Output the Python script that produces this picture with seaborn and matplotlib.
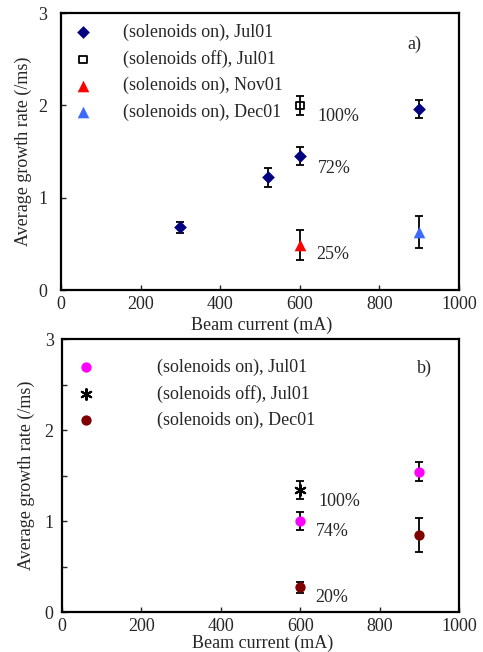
import numpy as np
import pandas as pd
import matplotlib
matplotlib.use("Agg")
import matplotlib.pyplot as plt
import seaborn as sns

# ---------------- data ----------------
# Panel a
a_on_jul_x = [300, 520, 600, 900]
a_on_jul_y = [0.68, 1.22, 1.45, 1.96]
a_on_jul_e = [0.06, 0.10, 0.10, 0.10]
a_off_jul_x = [600]
a_off_jul_y = [2.00]
a_off_jul_e = [0.10]
a_on_nov_x = [600]
a_on_nov_y = [0.49]
a_on_nov_e = [0.16]
a_on_dec_x = [900]
a_on_dec_y = [0.63]
a_on_dec_e = [0.17]
a_labels = ["(solenoids on), Jul01", "(solenoids off), Jul01",
            "(solenoids on), Nov01", "(solenoids on), Dec01"]
a_annot_text = ["100%", "72%", "25%"]
a_annot_x = [698, 686, 684]
a_annot_y = [1.88, 1.32, 0.38]

# Panel b
b_on_jul_x = [600, 900]
b_on_jul_y = [1.00, 1.54]
b_on_jul_e = [0.10, 0.105]
b_off_jul_x = [600]
b_off_jul_y = [1.34]
b_off_jul_e = [0.10]
b_on_dec_x = [600, 900]
b_on_dec_y = [0.27, 0.845]
b_on_dec_e = [0.06, 0.19]
b_labels = ["(solenoids on), Jul01", "(solenoids off), Jul01",
            "(solenoids on), Dec01"]
b_annot_text = ["100%", "74%", "20%"]
b_annot_x = [699, 680, 680]
b_annot_y = [1.21, 0.89, 0.165]

x_label = "Beam current (mA)"
y_label = "Average growth rate (/ms)"
x_ticks = [0, 200, 400, 600, 800, 1000]
y_ticks = [0, 1, 2, 3]

# ---------------- style ----------------
sns.set_style("ticks")
plt.rcParams['font.family'] = ['Liberation Serif', 'DejaVu Serif']
FS = 13
LFS = 13

fig = plt.figure(figsize=(4.83, 6.52), dpi=100)
ax_a = fig.add_axes([0.1263, 0.5552, 0.8240, 0.4248])
ax_b = fig.add_axes([0.1284, 0.0613, 0.8220, 0.4187])


def series(ax, xs, ys, es, marker, color, s, label, face=None, lw=0.0):
    df = pd.DataFrame({"x": xs, "y": ys})
    ax.errorbar(xs, ys, yerr=es, fmt="none", ecolor="black",
                elinewidth=1.3, capsize=3.2, capthick=1.3, zorder=2)
    kw = dict(marker=marker, s=s, label=label, zorder=3, linewidth=lw)
    if face is not None:
        kw["facecolor"] = face
        kw["edgecolor"] = color
    else:
        kw["color"] = color
        kw["edgecolor"] = color
    sns.scatterplot(data=df, x="x", y="y", ax=ax, **kw)


def style_axes(ax, pad_y, minor=False):
    ax.set_xlim(0, 1000)
    ax.set_ylim(0, 3)
    ax.set_xticks(x_ticks)
    ax.set_yticks(y_ticks)
    if minor:
        ax.set_yticks([0.5, 1.5, 2.5], minor=True)
    ax.tick_params(axis="both", which="both", direction="in", length=3.5,
                   width=1.0, labelsize=FS, top=False, right=False)
    ax.tick_params(axis="y", pad=pad_y)
    ax.tick_params(axis="x", pad=4)
    for sp in ax.spines.values():
        sp.set_visible(True)
        sp.set_linewidth(1.6)
        sp.set_color("black")
    ax.set_xlabel(x_label, fontsize=FS)
    ax.set_ylabel(y_label, fontsize=FS)


# ---------------- panel a ----------------
series(ax_a, a_on_jul_x, a_on_jul_y, a_on_jul_e, "D", "#000080", 42, a_labels[0])
series(ax_a, a_off_jul_x, a_off_jul_y, a_off_jul_e, "s", "black", 30, a_labels[1],
       face="none", lw=1.3)
series(ax_a, a_on_nov_x, a_on_nov_y, a_on_nov_e, "^", "#FF0000", 70, a_labels[2])
series(ax_a, a_on_dec_x, a_on_dec_y, a_on_dec_e, "^", "#3D6BFF", 70, a_labels[3])
style_axes(ax_a, pad_y=10)
ax_a.xaxis.set_label_coords(0.505, -0.097)
ax_a.yaxis.set_label_coords(-0.072, 0.5)
for t, x, y in zip(a_annot_text, a_annot_x, a_annot_y):
    ax_a.text(x, y, t, fontsize=FS, ha="center", va="center")
ax_a.text(889, 2.66, "a)", fontsize=FS, ha="center", va="center")
h, l = ax_a.get_legend_handles_labels()
ax_a.legend(h, l, loc="upper left", bbox_to_anchor=(0.033, 0.961),
            frameon=False, fontsize=LFS, borderaxespad=0, borderpad=0,
            handlelength=1.0, handletextpad=1.72, labelspacing=0.5)

# ---------------- panel b ----------------
series(ax_b, b_on_jul_x, b_on_jul_y, b_on_jul_e, "o", "#FF00FF", 55, b_labels[0])
series(ax_b, b_off_jul_x, b_off_jul_y, b_off_jul_e, (6, 2, 0), "black", 60,
       b_labels[1], lw=1.5)
series(ax_b, b_on_dec_x, b_on_dec_y, b_on_dec_e, "o", "#800000", 55, b_labels[2])
style_axes(ax_b, pad_y=6, minor=True)
ax_b.xaxis.set_label_coords(0.505, -0.082)
ax_b.yaxis.set_label_coords(-0.068, 0.5)
for t, x, y in zip(b_annot_text, b_annot_x, b_annot_y):
    ax_b.text(x, y, t, fontsize=FS, ha="center", va="center")
ax_b.text(912, 2.68, "b)", fontsize=FS, ha="center", va="center")
h, l = ax_b.get_legend_handles_labels()
ax_b.legend(h, l, loc="upper left", bbox_to_anchor=(0.038, 0.929),
            frameon=False, fontsize=LFS, borderaxespad=0, borderpad=0,
            handlelength=1.0, handletextpad=3.4, labelspacing=0.5)

fig.savefig("out.png", dpi=100)
